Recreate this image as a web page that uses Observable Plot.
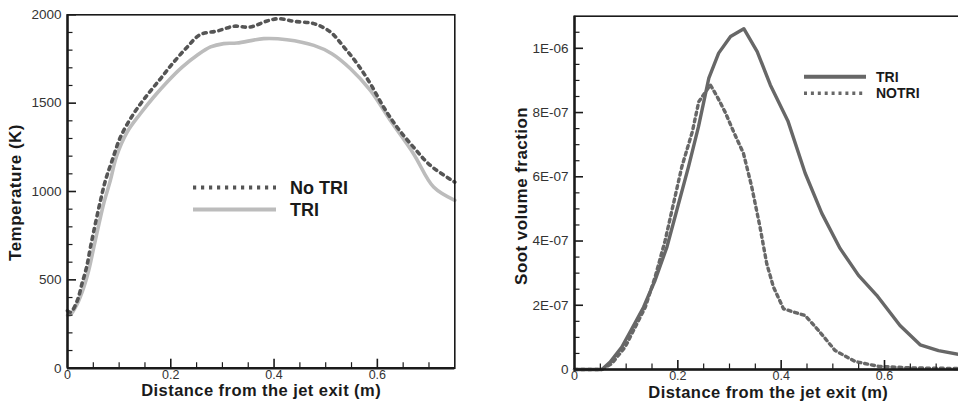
<!DOCTYPE html>
<html><head><meta charset="utf-8">
<script src="https://cdn.jsdelivr.net/npm/d3@7"></script>
<script src="https://cdn.jsdelivr.net/npm/@observablehq/plot@0.6"></script>
<style>
html,body{margin:0;padding:0;background:#fff;overflow:hidden;width:958px;height:405px}
#wrap{position:relative;width:958px;height:405px;overflow:hidden}
#wrap > svg{position:absolute;top:0}
</style></head><body><div id="wrap"></div>
<script>
// ---------- Left chart: temperature ----------
const tempNoTriX = [0, 0.006, 0.019, 0.028, 0.037, 0.0445, 0.054, 0.064, 0.0735, 0.0865, 0.1026, 0.128, 0.154, 0.18, 0.206, 0.232, 0.257, 0.290, 0.322, 0.354, 0.3865, 0.409, 0.438, 0.477, 0.509, 0.535, 0.561, 0.5865, 0.612, 0.638, 0.670, 0.7025, 0.75];
const tempNoTriY = [325, 317, 383, 478, 572, 685, 818, 950, 1063, 1176, 1308, 1440, 1544, 1638, 1733, 1818, 1888, 1908, 1935, 1931, 1965, 1978, 1963, 1950, 1903, 1818, 1723, 1610, 1478, 1365, 1251, 1148, 1053];
const tempTriX = [0, 0.006, 0.019, 0.0316, 0.041, 0.051, 0.061, 0.070, 0.083, 0.095, 0.1155, 0.141, 0.167, 0.193, 0.222, 0.251, 0.277, 0.3025, 0.328, 0.380, 0.425, 0.477, 0.512, 0.548, 0.5865, 0.625, 0.670, 0.709, 0.75];
const tempTriY = [300, 304, 365, 459, 553, 685, 818, 931, 1063, 1200, 1336, 1440, 1535, 1620, 1704, 1771, 1818, 1837, 1840, 1865, 1859, 1827, 1780, 1695, 1572, 1403, 1214, 1025, 950];
const tempXTicks = [0, 0.2, 0.4, 0.6];
const tempXMinor = [0.05, 0.1, 0.15, 0.25, 0.3, 0.35, 0.45, 0.5, 0.55, 0.65, 0.7];
const tempYTicks = [0, 500, 1000, 1500, 2000];
const tempYMinor = [100, 200, 300, 400, 600, 700, 800, 900, 1100, 1200, 1300, 1400, 1600, 1700, 1800, 1900];

// ---------- Right chart: soot volume fraction ----------
const sootTriX = [0, 0.053, 0.069, 0.0916, 0.111, 0.1336, 0.156, 0.179, 0.198, 0.2206, 0.240, 0.260, 0.279, 0.302, 0.3277, 0.3536, 0.379, 0.413, 0.4465, 0.4787, 0.514, 0.5497, 0.585, 0.630, 0.669, 0.7045, 0.75];
const sootTriY = [0, 0, 0.23e-7, 0.70e-7, 1.27e-7, 1.94e-7, 2.78e-7, 3.82e-7, 4.96e-7, 6.31e-7, 7.56e-7, 9.07e-7, 9.85e-7, 10.37e-7, 10.61e-7, 9.90e-7, 8.86e-7, 7.74e-7, 6.11e-7, 4.86e-7, 3.77e-7, 2.93e-7, 2.31e-7, 1.37e-7, 0.77e-7, 0.59e-7, 0.45e-7];
const sootNoTriX = [0, 0.053, 0.072, 0.098, 0.1175, 0.137, 0.156, 0.1755, 0.1916, 0.2077, 0.228, 0.2406, 0.263, 0.276, 0.2920, 0.308, 0.327, 0.343, 0.359, 0.372, 0.385, 0.4045, 0.424, 0.4465, 0.472, 0.5045, 0.543, 0.588, 0.653, 0.75];
const sootNoTriY = [0, 0, 0.18e-7, 0.70e-7, 1.32e-7, 1.94e-7, 2.88e-7, 4.02e-7, 5.17e-7, 6.31e-7, 7.40e-7, 8.34e-7, 8.86e-7, 8.50e-7, 8.00e-7, 7.40e-7, 6.73e-7, 5.69e-7, 4.44e-7, 3.30e-7, 2.57e-7, 1.89e-7, 1.79e-7, 1.68e-7, 1.22e-7, 0.59e-7, 0.25e-7, 0.10e-7, 0.05e-7, 0.03e-7];
const sootXTicks = [0, 0.2, 0.4, 0.6];
const sootXMinor = [0.05, 0.1, 0.15, 0.25, 0.3, 0.35, 0.45, 0.5, 0.55, 0.65, 0.7];
const sootYTicks = [0, 2e-7, 4e-7, 6e-7, 8e-7, 1e-6];
const sootYMinor = [0.5e-7, 1e-7, 1.5e-7, 2.5e-7, 3e-7, 3.5e-7, 4.5e-7, 5e-7, 5.5e-7, 6.5e-7, 7e-7, 7.5e-7, 8.5e-7, 9e-7, 9.5e-7, 1.05e-6];

const xTitleText = "Distance from the jet exit (m)";
const tempTitleText = "Temperature (K)";
const sootTitleText = "Soot volume fraction";

const FONT = '"Liberation Sans", Arial, Helvetica, sans-serif';
const rows = (xs, ys) => xs.map((x, i) => ({x, y: ys[i]}));
const fmtX = d => d === 0 ? "0" : String(+d.toFixed(1));
const fmtE = d => {
  if (d === 0) return "0";
  const [m, e] = d.toExponential(0).split("e");
  const n = +e;
  return m + "E" + (n < 0 ? "-" : "+") + String(Math.abs(n)).padStart(2, "0");
};

function chart({width, mL, mR, mT, mB, xDom, yDom, xT, xM, yT, yM, yFmt, lines, xTitle, yTitle, yTitleDx, yTitleDy}) {
  const pw = width - mL - mR, ph = 405 - mT - mB;
  const ux = (xDom[1] - xDom[0]) / pw, uy = (yDom[1] - yDom[0]) / ph;
  const majL = 9, minL = 5.5;
  const svg = Plot.plot({
    width, height: 405,
    marginLeft: mL, marginRight: mR, marginTop: mT, marginBottom: mB,
    x: {domain: xDom}, y: {domain: yDom},
    style: {fontFamily: FONT, background: "transparent", overflow: "visible"},
    marks: [
      ...lines,
      Plot.frame({stroke: "#1a1a1a", strokeWidth: 1.6}),
      Plot.ruleX([xDom[0]], {stroke: "#1a1a1a", strokeWidth: 2.4}),
      Plot.ruleY([yDom[0]], {stroke: "#1a1a1a", strokeWidth: 2.4}),
      Plot.ruleY(yT.filter(v => v > yDom[0]), {x1: xDom[0], x2: xDom[0] + majL * ux, stroke: "#1a1a1a", strokeWidth: 1.6}),
      Plot.ruleY(yM, {x1: xDom[0], x2: xDom[0] + minL * ux, stroke: "#1a1a1a", strokeWidth: 1.2}),
      Plot.ruleX(xT.filter(v => v > xDom[0]), {y1: yDom[0], y2: yDom[0] + majL * uy, stroke: "#1a1a1a", strokeWidth: 1.6}),
      Plot.ruleX(xM, {y1: yDom[0], y2: yDom[0] + minL * uy, stroke: "#1a1a1a", strokeWidth: 1.2}),
      Plot.axisX({ticks: xT, tickFormat: fmtX, tickSize: 0, tickPadding: 2, fontSize: 12.5, fill: "#333", label: null}),
      Plot.axisY({ticks: yT, tickFormat: yFmt, tickSize: 0, tickPadding: 6, fontSize: 13.5, fill: "#333", label: null}),
      Plot.text([xTitle], {frameAnchor: "bottom", dy: 28, fontSize: 16.5, fontWeight: "bold", fill: "#1a1a1a"}),
      Plot.text([yTitle], {frameAnchor: "left", textAnchor: "middle", rotate: -90, dx: yTitleDx, dy: yTitleDy, fontSize: 17, fontWeight: "bold", fill: "#1a1a1a"})
    ]
  });
  d3.select(svg).selectAll("text")
    .filter(function() { return this.textContent === xTitle || this.textContent === yTitle; })
    .attr("letter-spacing", "0.45px");
  return svg;
}

const wrap = document.getElementById("wrap");

const left = chart({
  width: 478, mL: 67, mR: 23.7, mT: 14.3, mB: 37.3,
  xDom: [0, 0.75], yDom: [0, 2000],
  xT: tempXTicks, xM: tempXMinor, yT: tempYTicks, yM: tempYMinor, yFmt: d => String(d),
  lines: [
    Plot.line(rows(tempTriX, tempTriY), {x: "x", y: "y", stroke: "#bcbcbc", strokeWidth: 3.6, curve: "catmull-rom"}),
    Plot.line(rows(tempNoTriX, tempNoTriY), {x: "x", y: "y", stroke: "#555", strokeWidth: 3.6, strokeDasharray: "3.2,4.8", curve: "catmull-rom"})
  ],
  xTitle: xTitleText, yTitle: tempTitleText, yTitleDx: -52, yTitleDy: 1
});
left.style.left = "0px";
wrap.appendChild(left);

const right = chart({
  width: 500, mL: 96, mR: 16.5, mT: 15.7, mB: 36,
  xDom: [0, 0.75], yDom: [0, 1.1e-6],
  xT: sootXTicks, xM: sootXMinor, yT: sootYTicks, yM: sootYMinor, yFmt: fmtE,
  lines: [
    Plot.line(rows(sootTriX, sootTriY), {x: "x", y: "y", stroke: "#676767", strokeWidth: 3.4}),
    Plot.line(rows(sootNoTriX, sootNoTriY), {x: "x", y: "y", stroke: "#676767", strokeWidth: 3.4, strokeDasharray: "3,3.9"})
  ],
  xTitle: xTitleText, yTitle: sootTitleText, yTitleDx: -53, yTitleDy: 3
});
right.style.left = "478px";
wrap.appendChild(right);

// ---------- Legends (overlay) ----------
const leftLegend = [
  {label: "No TRI", stroke: "#555", dash: "3.2,4.8", width: 4},
  {label: "TRI", stroke: "#bcbcbc", dash: null, width: 4}
];
const rightLegend = [
  {label: "TRI", stroke: "#676767", dash: null, width: 4},
  {label: "NOTRI", stroke: "#676767", dash: "3,3.9", width: 3.6}
];
const ov = d3.select(wrap).append("svg")
  .attr("width", 958).attr("height", 405)
  .style("position", "absolute").style("left", "0px").style("top", "0px")
  .style("pointer-events", "none");
function legend(items, x0, x1, tx, y0, step, fs) {
  const g = ov.append("g");
  items.forEach((it, i) => {
    const y = y0 + i * step;
    g.append("line").attr("x1", x0).attr("x2", x1).attr("y1", y).attr("y2", y)
      .attr("stroke", it.stroke).attr("stroke-width", it.width)
      .attr("stroke-dasharray", it.dash);
    g.append("text").attr("x", tx).attr("y", y).attr("dy", "0.36em")
      .attr("font-family", FONT).attr("font-weight", "bold").attr("font-size", fs)
      .attr("fill", "#1a1a1a").text(it.label);
  });
}
legend(leftLegend, 193, 276, 290, 187.5, 22, 18);
legend(rightLegend, 804, 866, 876, 76.7, 16.6, 14);
</script></body></html>
